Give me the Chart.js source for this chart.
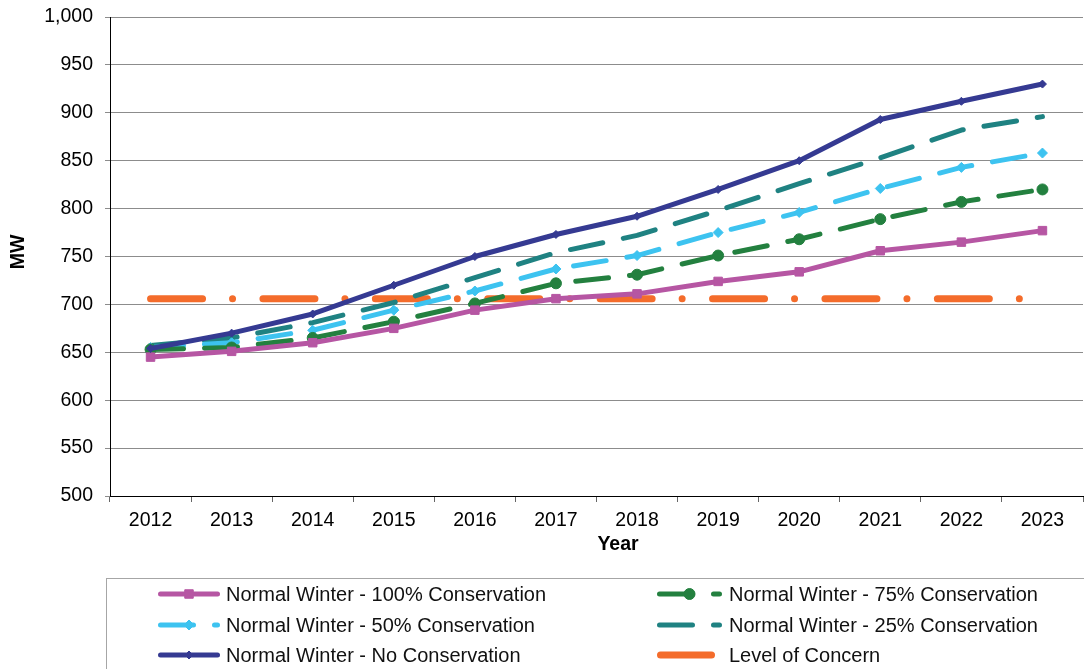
<!DOCTYPE html>
<html>
<head>
<meta charset="utf-8">
<script src="https://cdn.jsdelivr.net/npm/chart.js@4/dist/chart.umd.min.js"></script>
<style>
  html, body { margin: 0; padding: 0; background: #fff; overflow: hidden; }
  #wrap { width: 1090px; height: 669px; }
</style>
</head>
<body>
<div id="wrap"><canvas id="c" width="1090" height="669"></canvas></div>
<script>
const years = ['2012','2013','2014','2015','2016','2017','2018','2019','2020','2021','2022','2023'];
const cons100 = [645, 651, 660, 675, 694, 706, 711, 724, 734, 756, 765, 777];
const cons75  = [653, 655, 665, 682, 701, 722, 731, 751, 768, 789, 807, 820];
const cons50  = [655, 660, 673, 694, 714, 737, 751, 775, 796, 821, 843, 858];
const cons25  = [657, 665, 681, 702, 728, 754, 772, 798, 826, 853, 882, 896];
const noCons  = [654, 670, 690, 720, 750, 773, 792, 820, 850, 893, 912, 930];
const concern = [706, 706, 706, 706, 706, 706, 706, 706, 706, 706, 706, 706];
const seriesNames = [
  'Normal Winter - 100% Conservation',
  'Normal Winter - 75% Conservation',
  'Normal Winter - 50% Conservation',
  'Normal Winter - 25% Conservation',
  'Normal Winter - No Conservation',
  'Level of Concern'
];
const yTicks = { min: 500, max: 1000, step: 50 };
const xTitle = 'Year';
const yTitle = 'MW';

const FONT = '"Liberation Sans", Arial, sans-serif';
const C = { pink:'#B656A3', green:'#23803F', lblue:'#3DC3F0', teal:'#1F8282', navy:'#353A92', orange:'#F46C2B' };
const DASH = [33, 21];

function ds(label, data, color, opts) {
  return Object.assign({
    label, data,
    borderColor: color, backgroundColor: color,
    pointBackgroundColor: color, pointBorderColor: color,
    borderWidth: 5, pointBorderWidth: 1,
    borderCapStyle: 'round', borderJoinStyle: 'round',
    tension: 0, fill: false
  }, opts);
}

const datasets = [
  ds(seriesNames[0], cons100, C.pink,  { pointStyle:'rect', pointRadius:6, order:1 }),
  ds(seriesNames[1], cons75,  C.green, { pointStyle:'circle', pointRadius:5.5, borderDash:DASH, order:2 }),
  ds(seriesNames[2], cons50,  C.lblue, { pointStyle:'rectRot', pointRadius:5, borderDash:DASH, order:3 }),
  ds(seriesNames[3], cons25,  C.teal,  { pointRadius:0, borderDash:DASH, order:4 }),
  ds(seriesNames[4], noCons,  C.navy,  { pointStyle:'rectRot', pointRadius:4, order:0 }),
  ds(seriesNames[5], concern, C.orange,{ pointRadius:0, borderWidth:7, borderDash:[52, 30, 0, 30.4], order:5 })
];

function marker(ctx, style, x, y, r, color) {
  ctx.save();
  ctx.fillStyle = color; ctx.strokeStyle = color; ctx.lineWidth = 1; ctx.setLineDash([]);
  ctx.beginPath();
  if (style === 'rect') {
    const s = Math.SQRT1_2 * r; ctx.rect(x - s, y - s, 2*s, 2*s);
  } else if (style === 'circle') {
    ctx.arc(x, y, r, 0, Math.PI*2);
  } else if (style === 'rectRot') {
    ctx.moveTo(x - r, y); ctx.lineTo(x, y - r); ctx.lineTo(x + r, y); ctx.lineTo(x, y + r); ctx.closePath();
  }
  ctx.fill(); ctx.stroke();
  ctx.restore();
}

const legendPlugin = {
  id: 'customLegend',
  afterDraw(chart) {
    const ctx = chart.ctx;
    ctx.save();
    ctx.strokeStyle = '#a6a6a6'; ctx.lineWidth = 1;
    ctx.strokeRect(106.5, 578.5, 990, 120);
    const rows = [594, 625, 655];
    const cols = [{x1:158, x2:220, tx:226}, {x1:657, x2:722, tx:729}];
    const ds_ = chart.data.datasets;
    for (let i = 0; i < ds_.length; i++) {
      const d = ds_[i];
      const col = cols[i % 2], y = rows[Math.floor(i / 2)];
      const isConcern = i === 5;
      ctx.save();
      ctx.strokeStyle = d.borderColor;
      ctx.lineWidth = d.borderWidth;
      ctx.lineCap = 'round';
      ctx.setLineDash(isConcern ? [] : (d.borderDash || []));
      ctx.beginPath();
      const x2 = isConcern ? 715 : col.x2;
      ctx.moveTo(col.x1 + d.borderWidth/2, y);
      ctx.lineTo(x2 - d.borderWidth/2, y);
      ctx.stroke();
      ctx.restore();
      if (d.pointRadius > 0) {
        marker(ctx, d.pointStyle, (col.x1 + col.x2) / 2, y, d.pointRadius, d.borderColor);
      }
      ctx.fillStyle = '#111';
      ctx.font = '20px ' + FONT;
      ctx.textAlign = 'left'; ctx.textBaseline = 'middle';
      ctx.fillText(d.label, col.tx, y + 1);
    }
    ctx.fillStyle = '#000';
    ctx.font = 'bold 19.5px ' + FONT;
    ctx.textAlign = 'center'; ctx.textBaseline = 'middle';
    ctx.fillText(xTitle, 618, 545);
    ctx.translate(19, 252);
    ctx.rotate(-Math.PI / 2);
    ctx.fillText(yTitle, 0, 0);
    ctx.restore();
  }
};

Chart.defaults.color = '#000';
Chart.defaults.font.family = FONT;

new Chart(document.getElementById('c'), {
  type: 'line',
  data: { labels: years, datasets },
  options: {
    responsive: false,
    animation: false,
    layout: { padding: { top: 17, left: 0, right: 0, bottom: 113 } },
    plugins: { legend: { display: false }, tooltip: { enabled: false } },
    scales: {
      x: {
        type: 'category',
        offset: true,
        grid: { offset: true, drawOnChartArea: false, drawTicks: true, tickLength: 6, color: '#666', lineWidth: 1 },
        border: { color: '#000', width: 1 },
        ticks: { font: { size: 19.5 }, padding: 7, maxRotation: 0, autoSkip: false, color: '#000' },
        afterFit(s) { s.height = 60; }
      },
      y: {
        min: yTicks.min, max: yTicks.max,
        grid: { color: '#8c8c8c', lineWidth: 1, tickLength: 5, drawTicks: true },
        border: { color: '#000', width: 1 },
        ticks: {
          stepSize: yTicks.step, font: { size: 19.5, lineHeight: 0.5 }, padding: 12, color: '#000',
          callback: v => v.toLocaleString('en-US')
        },
        afterFit(s) { s.width = 110; }
      }
    }
  },
  plugins: [legendPlugin]
});
</script>
</body>
</html>
